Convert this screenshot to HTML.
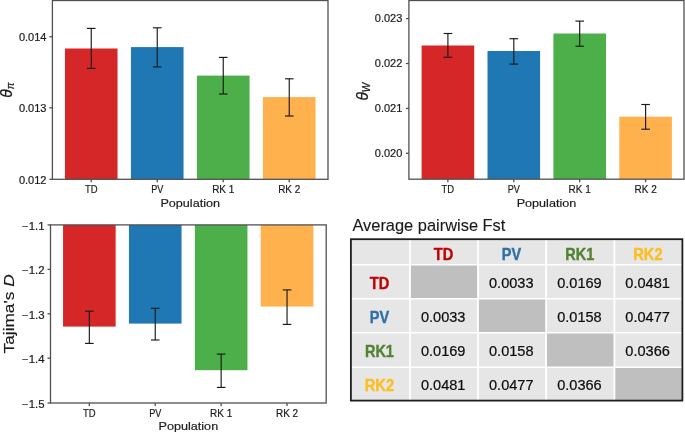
<!DOCTYPE html>
<html><head><meta charset="utf-8"><style>
html,body{margin:0;padding:0;background:#fff;width:685px;height:434px;overflow:hidden}
svg{display:block;will-change:transform}
text{font-family:"Liberation Sans",sans-serif}
</style></head><body>
<svg width="685" height="434" viewBox="0 0 685 434">
<rect x="0" y="0" width="685" height="434" fill="#fff"/>
<rect x="64.95" y="48.50" width="52.60" height="130.50" fill="#d62728" />
<rect x="130.95" y="47.10" width="52.60" height="131.90" fill="#1f77b4" />
<rect x="196.95" y="75.60" width="52.60" height="103.40" fill="#4daf4a" />
<rect x="262.95" y="97.10" width="52.60" height="81.90" fill="#ffb14e" />
<line x1="91.25" y1="28.40" x2="91.25" y2="68.40" stroke="#1a1a1a" stroke-width="1.15"/>
<line x1="86.95" y1="28.40" x2="95.55" y2="28.40" stroke="#1a1a1a" stroke-width="1.15"/>
<line x1="86.95" y1="68.40" x2="95.55" y2="68.40" stroke="#1a1a1a" stroke-width="1.15"/>
<line x1="157.25" y1="27.80" x2="157.25" y2="66.90" stroke="#1a1a1a" stroke-width="1.15"/>
<line x1="152.95" y1="27.80" x2="161.55" y2="27.80" stroke="#1a1a1a" stroke-width="1.15"/>
<line x1="152.95" y1="66.90" x2="161.55" y2="66.90" stroke="#1a1a1a" stroke-width="1.15"/>
<line x1="223.25" y1="57.40" x2="223.25" y2="94.00" stroke="#1a1a1a" stroke-width="1.15"/>
<line x1="218.95" y1="57.40" x2="227.55" y2="57.40" stroke="#1a1a1a" stroke-width="1.15"/>
<line x1="218.95" y1="94.00" x2="227.55" y2="94.00" stroke="#1a1a1a" stroke-width="1.15"/>
<line x1="289.25" y1="78.80" x2="289.25" y2="116.00" stroke="#1a1a1a" stroke-width="1.15"/>
<line x1="284.95" y1="78.80" x2="293.55" y2="78.80" stroke="#1a1a1a" stroke-width="1.15"/>
<line x1="284.95" y1="116.00" x2="293.55" y2="116.00" stroke="#1a1a1a" stroke-width="1.15"/>
<rect x="52.40" y="0.50" width="275.60" height="178.80" fill="none" stroke="#505050" stroke-width="1.3"/>
<line x1="49.40" y1="36.80" x2="52.40" y2="36.80" stroke="#505050" stroke-width="1.3"/>
<text x="46.50" y="41.00" font-size="10.0" text-anchor="end" fill="#1a1a1a" textLength="27.6" lengthAdjust="spacingAndGlyphs" stroke="#1a1a1a" stroke-width="0.18" >0.014</text>
<line x1="49.40" y1="107.80" x2="52.40" y2="107.80" stroke="#505050" stroke-width="1.3"/>
<text x="46.50" y="112.00" font-size="10.0" text-anchor="end" fill="#1a1a1a" textLength="27.6" lengthAdjust="spacingAndGlyphs" stroke="#1a1a1a" stroke-width="0.18" >0.013</text>
<line x1="49.40" y1="179.30" x2="52.40" y2="179.30" stroke="#505050" stroke-width="1.3"/>
<text x="46.50" y="183.50" font-size="10.0" text-anchor="end" fill="#1a1a1a" textLength="27.6" lengthAdjust="spacingAndGlyphs" stroke="#1a1a1a" stroke-width="0.18" >0.012</text>
<line x1="91.25" y1="179.30" x2="91.25" y2="182.30" stroke="#505050" stroke-width="1.3"/>
<text x="91.25" y="192.70" font-size="10.0" text-anchor="middle" fill="#1a1a1a" textLength="12.6" lengthAdjust="spacingAndGlyphs" stroke="#1a1a1a" stroke-width="0.18" >TD</text>
<line x1="157.25" y1="179.30" x2="157.25" y2="182.30" stroke="#505050" stroke-width="1.3"/>
<text x="157.25" y="192.70" font-size="10.0" text-anchor="middle" fill="#1a1a1a" textLength="12.2" lengthAdjust="spacingAndGlyphs" stroke="#1a1a1a" stroke-width="0.18" >PV</text>
<line x1="223.25" y1="179.30" x2="223.25" y2="182.30" stroke="#505050" stroke-width="1.3"/>
<text x="223.25" y="192.70" font-size="10.0" text-anchor="middle" fill="#1a1a1a" textLength="22.2" lengthAdjust="spacingAndGlyphs" stroke="#1a1a1a" stroke-width="0.18" >RK 1</text>
<line x1="289.25" y1="179.30" x2="289.25" y2="182.30" stroke="#505050" stroke-width="1.3"/>
<text x="289.25" y="192.70" font-size="10.0" text-anchor="middle" fill="#1a1a1a" textLength="22.2" lengthAdjust="spacingAndGlyphs" stroke="#1a1a1a" stroke-width="0.18" >RK 2</text>
<text x="190.20" y="206.70" font-size="11.6" text-anchor="middle" fill="#1a1a1a" textLength="59.6" lengthAdjust="spacingAndGlyphs" stroke="#1a1a1a" stroke-width="0.18" >Population</text>
<rect x="421.60" y="45.50" width="52.60" height="133.50" fill="#d62728" />
<rect x="487.50" y="51.00" width="52.60" height="128.00" fill="#1f77b4" />
<rect x="553.40" y="33.50" width="52.60" height="145.50" fill="#4daf4a" />
<rect x="619.30" y="116.70" width="52.60" height="62.30" fill="#ffb14e" />
<line x1="447.90" y1="33.50" x2="447.90" y2="57.30" stroke="#1a1a1a" stroke-width="1.15"/>
<line x1="443.60" y1="33.50" x2="452.20" y2="33.50" stroke="#1a1a1a" stroke-width="1.15"/>
<line x1="443.60" y1="57.30" x2="452.20" y2="57.30" stroke="#1a1a1a" stroke-width="1.15"/>
<line x1="513.80" y1="38.70" x2="513.80" y2="64.10" stroke="#1a1a1a" stroke-width="1.15"/>
<line x1="509.50" y1="38.70" x2="518.10" y2="38.70" stroke="#1a1a1a" stroke-width="1.15"/>
<line x1="509.50" y1="64.10" x2="518.10" y2="64.10" stroke="#1a1a1a" stroke-width="1.15"/>
<line x1="579.70" y1="21.10" x2="579.70" y2="46.20" stroke="#1a1a1a" stroke-width="1.15"/>
<line x1="575.40" y1="21.10" x2="584.00" y2="21.10" stroke="#1a1a1a" stroke-width="1.15"/>
<line x1="575.40" y1="46.20" x2="584.00" y2="46.20" stroke="#1a1a1a" stroke-width="1.15"/>
<line x1="645.60" y1="104.50" x2="645.60" y2="129.20" stroke="#1a1a1a" stroke-width="1.15"/>
<line x1="641.30" y1="104.50" x2="649.90" y2="104.50" stroke="#1a1a1a" stroke-width="1.15"/>
<line x1="641.30" y1="129.20" x2="649.90" y2="129.20" stroke="#1a1a1a" stroke-width="1.15"/>
<rect x="408.90" y="0.50" width="275.10" height="178.70" fill="none" stroke="#505050" stroke-width="1.3"/>
<line x1="405.90" y1="18.60" x2="408.90" y2="18.60" stroke="#505050" stroke-width="1.3"/>
<text x="402.40" y="22.20" font-size="10.0" text-anchor="end" fill="#1a1a1a" textLength="27.6" lengthAdjust="spacingAndGlyphs" stroke="#1a1a1a" stroke-width="0.18" >0.023</text>
<line x1="405.90" y1="63.50" x2="408.90" y2="63.50" stroke="#505050" stroke-width="1.3"/>
<text x="402.40" y="67.10" font-size="10.0" text-anchor="end" fill="#1a1a1a" textLength="27.6" lengthAdjust="spacingAndGlyphs" stroke="#1a1a1a" stroke-width="0.18" >0.022</text>
<line x1="405.90" y1="108.40" x2="408.90" y2="108.40" stroke="#505050" stroke-width="1.3"/>
<text x="402.40" y="112.00" font-size="10.0" text-anchor="end" fill="#1a1a1a" textLength="27.6" lengthAdjust="spacingAndGlyphs" stroke="#1a1a1a" stroke-width="0.18" >0.021</text>
<line x1="405.90" y1="153.30" x2="408.90" y2="153.30" stroke="#505050" stroke-width="1.3"/>
<text x="402.40" y="156.90" font-size="10.0" text-anchor="end" fill="#1a1a1a" textLength="27.6" lengthAdjust="spacingAndGlyphs" stroke="#1a1a1a" stroke-width="0.18" >0.020</text>
<line x1="447.90" y1="179.20" x2="447.90" y2="182.20" stroke="#505050" stroke-width="1.3"/>
<text x="447.90" y="192.70" font-size="10.0" text-anchor="middle" fill="#1a1a1a" textLength="12.6" lengthAdjust="spacingAndGlyphs" stroke="#1a1a1a" stroke-width="0.18" >TD</text>
<line x1="513.80" y1="179.20" x2="513.80" y2="182.20" stroke="#505050" stroke-width="1.3"/>
<text x="513.80" y="192.70" font-size="10.0" text-anchor="middle" fill="#1a1a1a" textLength="12.2" lengthAdjust="spacingAndGlyphs" stroke="#1a1a1a" stroke-width="0.18" >PV</text>
<line x1="579.70" y1="179.20" x2="579.70" y2="182.20" stroke="#505050" stroke-width="1.3"/>
<text x="579.70" y="192.70" font-size="10.0" text-anchor="middle" fill="#1a1a1a" textLength="22.2" lengthAdjust="spacingAndGlyphs" stroke="#1a1a1a" stroke-width="0.18" >RK 1</text>
<line x1="645.60" y1="179.20" x2="645.60" y2="182.20" stroke="#505050" stroke-width="1.3"/>
<text x="645.60" y="192.70" font-size="10.0" text-anchor="middle" fill="#1a1a1a" textLength="22.2" lengthAdjust="spacingAndGlyphs" stroke="#1a1a1a" stroke-width="0.18" >RK 2</text>
<text x="546.45" y="206.70" font-size="11.6" text-anchor="middle" fill="#1a1a1a" textLength="59.6" lengthAdjust="spacingAndGlyphs" stroke="#1a1a1a" stroke-width="0.18" >Population</text>
<rect x="63.05" y="225.00" width="52.60" height="101.60" fill="#d62728" />
<rect x="128.95" y="225.00" width="52.60" height="98.60" fill="#1f77b4" />
<rect x="194.85" y="225.00" width="52.60" height="145.20" fill="#4daf4a" />
<rect x="260.75" y="225.00" width="52.60" height="81.60" fill="#ffb14e" />
<line x1="89.35" y1="311.20" x2="89.35" y2="343.40" stroke="#1a1a1a" stroke-width="1.15"/>
<line x1="85.05" y1="311.20" x2="93.65" y2="311.20" stroke="#1a1a1a" stroke-width="1.15"/>
<line x1="85.05" y1="343.40" x2="93.65" y2="343.40" stroke="#1a1a1a" stroke-width="1.15"/>
<line x1="155.25" y1="308.30" x2="155.25" y2="340.00" stroke="#1a1a1a" stroke-width="1.15"/>
<line x1="150.95" y1="308.30" x2="159.55" y2="308.30" stroke="#1a1a1a" stroke-width="1.15"/>
<line x1="150.95" y1="340.00" x2="159.55" y2="340.00" stroke="#1a1a1a" stroke-width="1.15"/>
<line x1="221.15" y1="354.10" x2="221.15" y2="387.40" stroke="#1a1a1a" stroke-width="1.15"/>
<line x1="216.85" y1="354.10" x2="225.45" y2="354.10" stroke="#1a1a1a" stroke-width="1.15"/>
<line x1="216.85" y1="387.40" x2="225.45" y2="387.40" stroke="#1a1a1a" stroke-width="1.15"/>
<line x1="287.05" y1="289.90" x2="287.05" y2="324.40" stroke="#1a1a1a" stroke-width="1.15"/>
<line x1="282.75" y1="289.90" x2="291.35" y2="289.90" stroke="#1a1a1a" stroke-width="1.15"/>
<line x1="282.75" y1="324.40" x2="291.35" y2="324.40" stroke="#1a1a1a" stroke-width="1.15"/>
<rect x="50.50" y="224.90" width="275.70" height="178.10" fill="none" stroke="#505050" stroke-width="1.3"/>
<line x1="47.50" y1="224.90" x2="50.50" y2="224.90" stroke="#505050" stroke-width="1.3"/>
<text x="44.60" y="229.60" font-size="10.0" text-anchor="end" fill="#1a1a1a" textLength="22.5" lengthAdjust="spacingAndGlyphs" stroke="#1a1a1a" stroke-width="0.18" >−1.1</text>
<line x1="47.50" y1="269.40" x2="50.50" y2="269.40" stroke="#505050" stroke-width="1.3"/>
<text x="44.60" y="274.10" font-size="10.0" text-anchor="end" fill="#1a1a1a" textLength="22.5" lengthAdjust="spacingAndGlyphs" stroke="#1a1a1a" stroke-width="0.18" >−1.2</text>
<line x1="47.50" y1="313.80" x2="50.50" y2="313.80" stroke="#505050" stroke-width="1.3"/>
<text x="44.60" y="318.50" font-size="10.0" text-anchor="end" fill="#1a1a1a" textLength="22.5" lengthAdjust="spacingAndGlyphs" stroke="#1a1a1a" stroke-width="0.18" >−1.3</text>
<line x1="47.50" y1="358.20" x2="50.50" y2="358.20" stroke="#505050" stroke-width="1.3"/>
<text x="44.60" y="362.90" font-size="10.0" text-anchor="end" fill="#1a1a1a" textLength="22.5" lengthAdjust="spacingAndGlyphs" stroke="#1a1a1a" stroke-width="0.18" >−1.4</text>
<line x1="47.50" y1="403.00" x2="50.50" y2="403.00" stroke="#505050" stroke-width="1.3"/>
<text x="44.60" y="407.70" font-size="10.0" text-anchor="end" fill="#1a1a1a" textLength="22.5" lengthAdjust="spacingAndGlyphs" stroke="#1a1a1a" stroke-width="0.18" >−1.5</text>
<line x1="89.35" y1="403.00" x2="89.35" y2="406.00" stroke="#505050" stroke-width="1.3"/>
<text x="89.35" y="416.50" font-size="10.0" text-anchor="middle" fill="#1a1a1a" textLength="12.6" lengthAdjust="spacingAndGlyphs" stroke="#1a1a1a" stroke-width="0.18" >TD</text>
<line x1="155.25" y1="403.00" x2="155.25" y2="406.00" stroke="#505050" stroke-width="1.3"/>
<text x="155.25" y="416.50" font-size="10.0" text-anchor="middle" fill="#1a1a1a" textLength="12.2" lengthAdjust="spacingAndGlyphs" stroke="#1a1a1a" stroke-width="0.18" >PV</text>
<line x1="221.15" y1="403.00" x2="221.15" y2="406.00" stroke="#505050" stroke-width="1.3"/>
<text x="221.15" y="416.50" font-size="10.0" text-anchor="middle" fill="#1a1a1a" textLength="22.2" lengthAdjust="spacingAndGlyphs" stroke="#1a1a1a" stroke-width="0.18" >RK 1</text>
<line x1="287.05" y1="403.00" x2="287.05" y2="406.00" stroke="#505050" stroke-width="1.3"/>
<text x="287.05" y="416.50" font-size="10.0" text-anchor="middle" fill="#1a1a1a" textLength="22.2" lengthAdjust="spacingAndGlyphs" stroke="#1a1a1a" stroke-width="0.18" >RK 2</text>
<text x="188.35" y="430.20" font-size="11.6" text-anchor="middle" fill="#1a1a1a" textLength="59.6" lengthAdjust="spacingAndGlyphs" stroke="#1a1a1a" stroke-width="0.18" >Population</text>
<text transform="translate(11.7,97.8) rotate(-90)" font-size="15.6" fill="#1a1a1a" stroke="#1a1a1a" stroke-width="0.25" font-style="italic">θ<tspan font-size="10" dy="1.9">π</tspan></text>
<text transform="translate(367.9,100.6) rotate(-90)" font-size="15.6" fill="#1a1a1a" stroke="#1a1a1a" stroke-width="0.25" font-style="italic">θ<tspan font-size="10" dy="2.2">W</tspan></text>
<text transform="translate(13.8,353.4) rotate(-90)" font-size="14.3" fill="#1a1a1a" stroke="#1a1a1a" stroke-width="0.15" textLength="79" lengthAdjust="spacingAndGlyphs">Tajima's <tspan font-style="italic">D</tspan></text>
<rect x="350.90" y="239.20" width="331.50" height="161.40" fill="#e7e6e6" />
<rect x="410.00" y="264.70" width="68.00" height="34.10" fill="#bfbfbf" />
<rect x="478.00" y="298.80" width="68.10" height="33.90" fill="#bfbfbf" />
<rect x="546.10" y="332.70" width="68.30" height="34.60" fill="#bfbfbf" />
<rect x="614.40" y="367.30" width="68.00" height="33.30" fill="#bfbfbf" />
<line x1="410.00" y1="239.20" x2="410.00" y2="400.60" stroke="#fff" stroke-width="1.8"/>
<line x1="478.00" y1="239.20" x2="478.00" y2="400.60" stroke="#fff" stroke-width="1.8"/>
<line x1="546.10" y1="239.20" x2="546.10" y2="400.60" stroke="#fff" stroke-width="1.8"/>
<line x1="614.40" y1="239.20" x2="614.40" y2="400.60" stroke="#fff" stroke-width="1.8"/>
<line x1="350.90" y1="264.70" x2="682.40" y2="264.70" stroke="#fff" stroke-width="1.6"/>
<line x1="350.90" y1="298.80" x2="682.40" y2="298.80" stroke="#fff" stroke-width="1.6"/>
<line x1="350.90" y1="332.70" x2="682.40" y2="332.70" stroke="#fff" stroke-width="1.6"/>
<line x1="350.90" y1="367.30" x2="682.40" y2="367.30" stroke="#fff" stroke-width="1.6"/>
<rect x="350.90" y="239.20" width="331.50" height="161.40" fill="none" stroke="#1e1e1e" stroke-width="1.8"/>
<text x="352.40" y="231.20" font-size="16.2" text-anchor="start" fill="#1a1a1a" textLength="153" lengthAdjust="spacingAndGlyphs" stroke="#1a1a1a" stroke-width="0.12" >Average pairwise Fst</text>
<text x="443.50" y="259.80" font-size="16.2" text-anchor="middle" fill="#c00000" textLength="19.4" lengthAdjust="spacingAndGlyphs" font-weight="bold" stroke="#c00000" stroke-width="0.4" >TD</text>
<text x="379.45" y="288.65" font-size="16.2" text-anchor="middle" fill="#c00000" textLength="19.4" lengthAdjust="spacingAndGlyphs" font-weight="bold" stroke="#c00000" stroke-width="0.4" >TD</text>
<text x="511.55" y="259.80" font-size="16.2" text-anchor="middle" fill="#3070aa" textLength="19.4" lengthAdjust="spacingAndGlyphs" font-weight="bold" stroke="#3070aa" stroke-width="0.4" >PV</text>
<text x="379.45" y="322.65" font-size="16.2" text-anchor="middle" fill="#3070aa" textLength="19.4" lengthAdjust="spacingAndGlyphs" font-weight="bold" stroke="#3070aa" stroke-width="0.4" >PV</text>
<text x="579.75" y="259.80" font-size="16.2" text-anchor="middle" fill="#548235" textLength="29.0" lengthAdjust="spacingAndGlyphs" font-weight="bold" stroke="#548235" stroke-width="0.4" >RK1</text>
<text x="379.45" y="356.90" font-size="16.2" text-anchor="middle" fill="#548235" textLength="29.0" lengthAdjust="spacingAndGlyphs" font-weight="bold" stroke="#548235" stroke-width="0.4" >RK1</text>
<text x="647.90" y="259.80" font-size="16.2" text-anchor="middle" fill="#fcbe22" textLength="29.4" lengthAdjust="spacingAndGlyphs" font-weight="bold" stroke="#fcbe22" stroke-width="0.4" >RK2</text>
<text x="379.45" y="390.85" font-size="16.2" text-anchor="middle" fill="#fcbe22" textLength="29.4" lengthAdjust="spacingAndGlyphs" font-weight="bold" stroke="#fcbe22" stroke-width="0.4" >RK2</text>
<text x="511.25" y="288.05" font-size="14.0" text-anchor="middle" fill="#0d0d0d" textLength="44.5" lengthAdjust="spacingAndGlyphs" stroke="#0d0d0d" stroke-width="0.2" >0.0033</text>
<text x="579.45" y="288.05" font-size="14.0" text-anchor="middle" fill="#0d0d0d" textLength="44.5" lengthAdjust="spacingAndGlyphs" stroke="#0d0d0d" stroke-width="0.2" >0.0169</text>
<text x="647.60" y="288.05" font-size="14.0" text-anchor="middle" fill="#0d0d0d" textLength="44.5" lengthAdjust="spacingAndGlyphs" stroke="#0d0d0d" stroke-width="0.2" >0.0481</text>
<text x="443.20" y="322.05" font-size="14.0" text-anchor="middle" fill="#0d0d0d" textLength="44.5" lengthAdjust="spacingAndGlyphs" stroke="#0d0d0d" stroke-width="0.2" >0.0033</text>
<text x="579.45" y="322.05" font-size="14.0" text-anchor="middle" fill="#0d0d0d" textLength="44.5" lengthAdjust="spacingAndGlyphs" stroke="#0d0d0d" stroke-width="0.2" >0.0158</text>
<text x="647.60" y="322.05" font-size="14.0" text-anchor="middle" fill="#0d0d0d" textLength="44.5" lengthAdjust="spacingAndGlyphs" stroke="#0d0d0d" stroke-width="0.2" >0.0477</text>
<text x="443.20" y="356.30" font-size="14.0" text-anchor="middle" fill="#0d0d0d" textLength="44.5" lengthAdjust="spacingAndGlyphs" stroke="#0d0d0d" stroke-width="0.2" >0.0169</text>
<text x="511.25" y="356.30" font-size="14.0" text-anchor="middle" fill="#0d0d0d" textLength="44.5" lengthAdjust="spacingAndGlyphs" stroke="#0d0d0d" stroke-width="0.2" >0.0158</text>
<text x="647.60" y="356.30" font-size="14.0" text-anchor="middle" fill="#0d0d0d" textLength="44.5" lengthAdjust="spacingAndGlyphs" stroke="#0d0d0d" stroke-width="0.2" >0.0366</text>
<text x="443.20" y="390.25" font-size="14.0" text-anchor="middle" fill="#0d0d0d" textLength="44.5" lengthAdjust="spacingAndGlyphs" stroke="#0d0d0d" stroke-width="0.2" >0.0481</text>
<text x="511.25" y="390.25" font-size="14.0" text-anchor="middle" fill="#0d0d0d" textLength="44.5" lengthAdjust="spacingAndGlyphs" stroke="#0d0d0d" stroke-width="0.2" >0.0477</text>
<text x="579.45" y="390.25" font-size="14.0" text-anchor="middle" fill="#0d0d0d" textLength="44.5" lengthAdjust="spacingAndGlyphs" stroke="#0d0d0d" stroke-width="0.2" >0.0366</text>
</svg>
</body></html>
